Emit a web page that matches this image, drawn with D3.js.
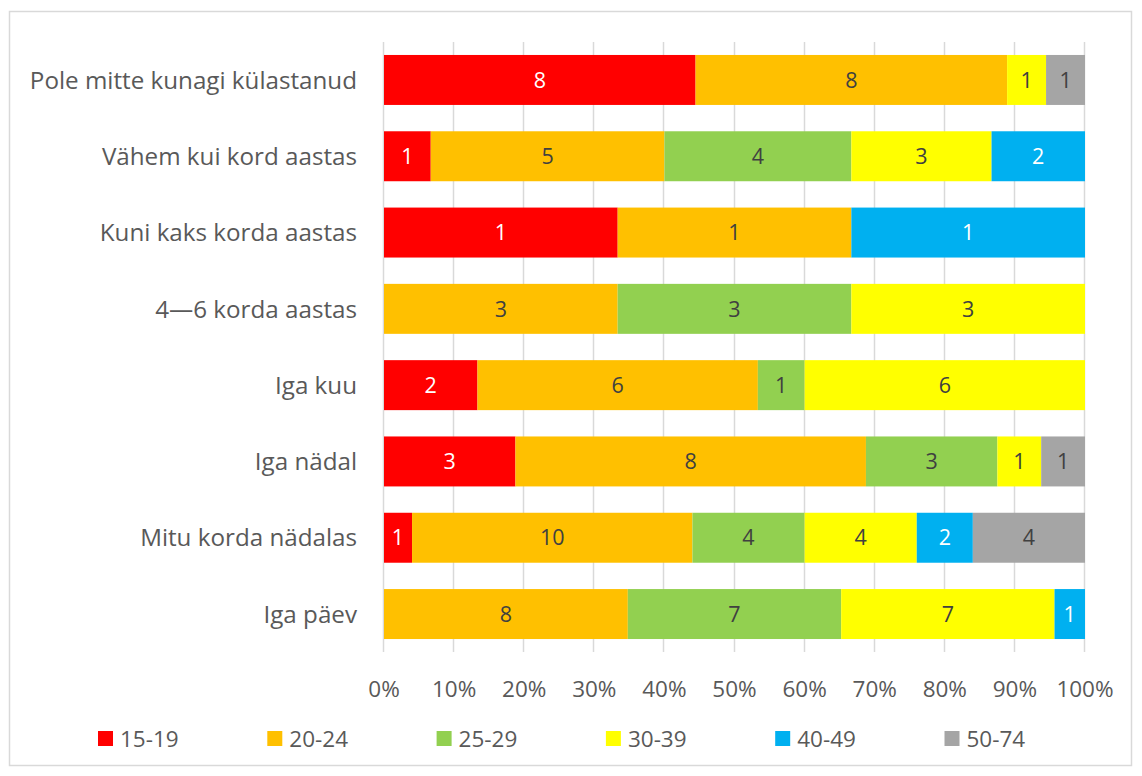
<!DOCTYPE html>
<html>
<head>
<meta charset="utf-8">
<script src="https://cdn.jsdelivr.net/npm/d3@7"></script>
<style>
  body { margin: 0; background: #fff; }
  text { font-family: "Open Sans", "Noto Sans", sans-serif; }
</style>
</head>
<body>
<script>
// categories top to bottom, counts per age group
const categories = ["Pole mitte kunagi külastanud", "Vähem kui kord aastas", "Kuni kaks korda aastas",
    "4—6 korda aastas", "Iga kuu", "Iga nädal", "Mitu korda nädalas", "Iga päev"]
const groups = ["15-19", "20-24", "25-29", "30-39", "40-49", "50-74"]
const v15_19 = [8, 1, 1, 0, 2, 3, 1, 0]
const v20_24 = [8, 5, 1, 3, 6, 8, 10, 8]
const v25_29 = [0, 4, 0, 3, 1, 3, 4, 7]
const v30_39 = [1, 3, 0, 3, 6, 1, 4, 7]
const v40_49 = [0, 2, 1, 0, 0, 0, 2, 1]
const v50_74 = [1, 0, 0, 0, 0, 1, 4, 0]
const ticks = [0, 0.1, 0.2, 0.3, 0.4, 0.5, 0.6, 0.7, 0.8, 0.9, 1]

const colors = ["#FF0000", "#FFC000", "#92D050", "#FFFF00", "#00B0F0", "#A5A5A5"]
const labelColors = ["#FFFFFF", "#404040", "#404040", "#404040", "#FFFFFF", "#404040"]
const series = [v15_19, v20_24, v25_29, v30_39, v40_49, v50_74]

const W = 1142, H = 776
const svg = d3.select("body").append("svg").attr("width", W).attr("height", H)

// chart border
svg.append("rect").attr("x", 9.5).attr("y", 11.5).attr("width", 1122).attr("height", 754)
    .attr("fill", "#fff").attr("stroke", "#D9D9D9").attr("stroke-width", 1.5)

// build rows
let rows = categories.map((c, i) => {
    let row = { cat: c }
    groups.forEach((g, j) => row[g] = series[j][i])
    return row
})
const stacked = d3.stack().keys(groups).offset(d3.stackOffsetExpand)(rows)

const x = d3.scaleLinear().domain([0, 1]).range([384, 1085])
const y = d3.scaleBand().domain(categories).range([42, 652]).paddingInner(0.345).paddingOuter(0.17)

// gridlines
svg.append("g").selectAll("line").data(ticks).join("line")
    .attr("x1", d => Math.round(x(d)) - 0.5).attr("x2", d => Math.round(x(d)) - 0.5)
    .attr("y1", 42).attr("y2", 652)
    .attr("stroke", "#D9D9D9").attr("stroke-width", 1.5)

// bars
const layer = svg.append("g").selectAll("g").data(stacked).join("g")
    .attr("fill", (d, i) => colors[i])
layer.selectAll("rect").data(d => d).join("rect")
    .attr("x", d => x(d[0]))
    .attr("width", d => x(d[1]) - x(d[0]))
    .attr("y", d => y(d.data.cat))
    .attr("height", y.bandwidth())

// value labels
stacked.forEach((s, i) => {
    svg.append("g").selectAll("text").data(s.filter(d => d.data[s.key] > 0)).join("text")
        .attr("x", d => (x(d[0]) + x(d[1])) / 2)
        .attr("y", d => y(d.data.cat) + y.bandwidth() / 2)
        .attr("dy", "0.36em")
        .attr("text-anchor", "middle")
        .attr("font-size", 21.5)
        .attr("fill", labelColors[i])
        .text(d => d.data[s.key])
})

// category labels
svg.append("g").selectAll("text").data(categories).join("text")
    .attr("x", 357)
    .attr("y", d => y(d) + y.bandwidth() / 2)
    .attr("dy", "0.36em")
    .attr("text-anchor", "end")
    .attr("font-size", 24.2)
    .attr("fill", "#595959")
    .text(d => d)

// x tick labels
svg.append("g").selectAll("text").data(ticks).join("text")
    .attr("x", d => x(d))
    .attr("y", 689)
    .attr("dy", "0.36em")
    .attr("text-anchor", "middle")
    .attr("font-size", 22.5)
    .attr("fill", "#595959")
    .text(d => d3.format(".0%")(d))

// legend
const legend = svg.append("g").selectAll("g").data(groups).join("g")
    .attr("transform", (d, i) => `translate(${98 + i * 169.3},731)`)
legend.append("rect").attr("width", 15).attr("height", 15).attr("fill", (d, i) => colors[i])
legend.append("text").attr("x", 22).attr("y", 8).attr("dy", "0.36em")
    .attr("font-size", 22.5).attr("fill", "#595959").text(d => d)
</script>
</body>
</html>
